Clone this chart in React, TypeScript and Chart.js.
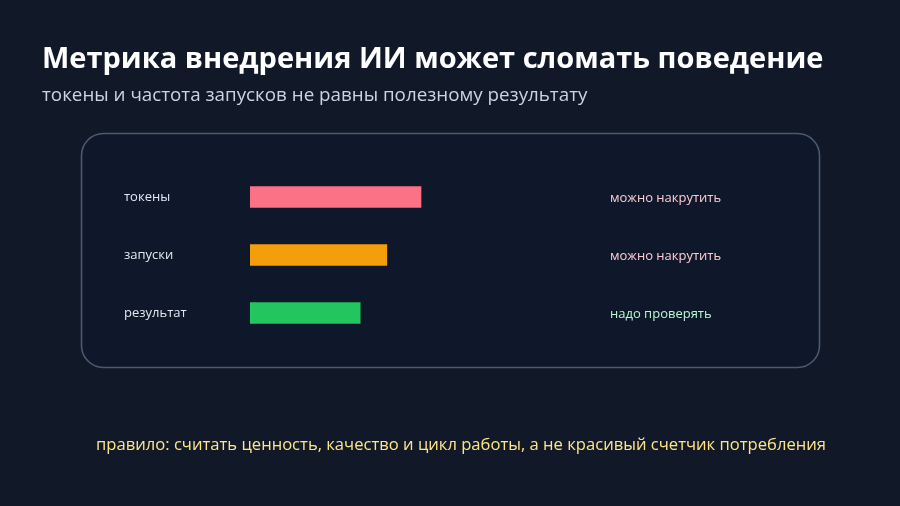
import React, { useEffect, useRef } from "react";
import { Chart, registerables } from "chart.js";

Chart.register(...registerables);

const categories = ["токены", "запуски", "результат"];
const values = [90, 72, 58];
const barColors = ["#fb7185", "#f59e0b", "#22c55e"];
const notes = ["можно накрутить", "можно накрутить", "надо проверять"];
const noteColors = ["#fecdd3", "#fecdd3", "#bbf7d0"];

const titleText = "Метрика внедрения ИИ может сломать поведение";
const subtitleText = "токены и частота запусков не равны полезному результату";
const footerText = "правило: считать ценность, качество и цикл работы, а не красивый счетчик потребления";

const FONT = "'Open Sans', 'Noto Sans', sans-serif";

export default function App() {
  const ref = useRef<HTMLCanvasElement | null>(null);

  useEffect(() => {
    document.body.style.margin = "0";
    const canvas = ref.current;
    if (!canvas) return;

    const cardPlugin = {
      id: "card",
      beforeDraw(chart: any) {
        const ctx = chart.ctx;
        ctx.save();
        const x = 81.5, y = 133.5, w = 738, h = 234, r = 22;
        ctx.beginPath();
        ctx.moveTo(x + r, y);
        ctx.arcTo(x + w, y, x + w, y + h, r);
        ctx.arcTo(x + w, y + h, x, y + h, r);
        ctx.arcTo(x, y + h, x, y, r);
        ctx.arcTo(x, y, x + w, y, r);
        ctx.closePath();
        ctx.fillStyle = "#0f172a";
        ctx.fill();
        ctx.lineWidth = 1.6;
        ctx.strokeStyle = "#4b5a6e";
        ctx.stroke();
        ctx.restore();
      },
    };

    const notesPlugin = {
      id: "notes",
      afterDatasetsDraw(chart: any) {
        const ctx = chart.ctx;
        const meta = chart.getDatasetMeta(0);
        ctx.save();
        ctx.font = `13px ${FONT}`;
        ctx.textAlign = "left";
        ctx.textBaseline = "middle";
        meta.data.forEach((bar: any, i: number) => {
          ctx.fillStyle = noteColors[i];
          ctx.fillText(notes[i], 610, bar.y + 1);
        });
        ctx.restore();
      },
    };

    const chart = new Chart(canvas, {
      type: "bar",
      data: {
        labels: categories,
        datasets: [
          {
            data: values,
            backgroundColor: barColors,
            barThickness: 21,
            borderWidth: 0,
          },
        ],
      },
      options: {
        indexAxis: "y",
        animation: false,
        responsive: false,
        maintainAspectRatio: false,
        layout: { padding: { left: 124, right: 460, top: 168, bottom: 164 } },
        plugins: {
          legend: { display: false },
          tooltip: { enabled: false },
        },
        scales: {
          x: {
            min: 0,
            max: 100,
            display: false,
            grid: { display: false },
          },
          y: {
            grid: { display: false },
            border: { display: false },
            ticks: {
              crossAlign: "far",
              color: "#e2e8f0",
              font: { family: FONT, size: 13 },
            },
            afterFit(scale: any) {
              scale.width = 126;
            },
          },
        },
      },
      plugins: [cardPlugin, notesPlugin],
    });
    return () => chart.destroy();
  }, []);

  return (
    <div
      style={{
        position: "relative",
        width: 900,
        height: 506,
        background: "#111827",
        overflow: "hidden",
        fontFamily: FONT,
      }}
    >
      <canvas ref={ref} width={900} height={506} style={{ position: "absolute", left: 0, top: 0 }} />
      <div
        style={{
          position: "absolute",
          left: 42,
          top: 37,
          fontSize: 29,
          fontWeight: 700,
          color: "#ffffff",
          whiteSpace: "nowrap",
          lineHeight: "40px",
        }}
      >
        {titleText}
      </div>
      <div
        style={{
          position: "absolute",
          left: 42,
          top: 81,
          fontSize: 18.8,
          color: "#cbd5e1",
          whiteSpace: "nowrap",
          lineHeight: "26px",
        }}
      >
        {subtitleText}
      </div>
      <div
        style={{
          position: "absolute",
          left: 11,
          width: 900,
          top: 432,
          textAlign: "center",
          fontSize: 16.6,
          color: "#fde68a",
          whiteSpace: "nowrap",
          lineHeight: "24px",
        }}
      >
        {footerText}
      </div>
    </div>
  );
}
